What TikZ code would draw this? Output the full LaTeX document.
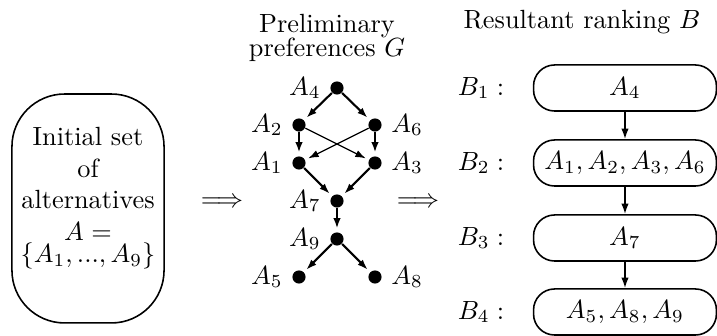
\documentclass[tikz,border=0pt]{standalone}
\usepackage{amsmath}
\usepackage{amssymb}
\usepackage{tikz}
\usetikzlibrary{positioning,arrows.meta}

\begin{document}
\begin{tikzpicture}[
  x=0.38pt,y=-0.38pt,
  vtx/.style={circle,fill=black,inner sep=0pt,minimum size=5pt},
  pref/.style={->,>={Latex[length=4pt,width=2.8pt]},thick,shorten >=1.2pt},
  crosspref/.style={pref,line width=0.5pt},
  initbox/.style={rectangle,draw,semithick,rounded corners=20pt,minimum width=57.8pt,minimum height=87pt},
  rankbox/.style={rectangle,draw,semithick,rounded corners=8pt,minimum width=69.5pt,minimum height=17.5pt,inner sep=0pt},
  rankdep/.style={->,>={Latex[length=4pt,width=2.8pt]},semithick},
]
\useasboundingbox (0,0) rectangle (717,336);

% === Initial set ===
\node[initbox] (init) at (88,208.5) {};
\node[align=center,anchor=north] (inittext) at (88,118) {Initial set\\of\\alternatives\\$A=$\\[-3.5pt]$\{A_1,...,A_9\}$};

\node (imp1) at (222,203) {$\Longrightarrow$};

% === Preliminary preferences G ===
\node[align=center,anchor=north] (gtitle) at (327,5) {Preliminary\\[-3pt]preferences $G$};

\node[vtx,label={left:$A_4$}] (a4) at (337,88) {};
\node[vtx,label={left:$A_2$}] (a2) at (299,125) {};
\node[vtx,label={right:$A_6$}] (a6) at (375,125) {};
\node[vtx,label={left:$A_1$}] (a1) at (299,163) {};
\node[vtx,label={right:$A_3$}] (a3) at (375,163) {};
\node[vtx,label={left:$A_7$}] (a7) at (337,201) {};
\node[vtx,label={left:$A_9$}] (a9) at (337,239) {};
\node[vtx,label={left:$A_5$}] (a5) at (299,277) {};
\node[vtx,label={right:$A_8$}] (a8) at (375,277) {};

\draw[pref] (a4) -- (a2);
\draw[pref] (a4) -- (a6);
\draw[pref] (a2) -- (a1);
\draw[pref] (a6) -- (a3);
\draw[crosspref] (a2) -- (a3);
\draw[crosspref] (a6) -- (a1);
\draw[pref] (a1) -- (a7);
\draw[pref] (a3) -- (a7);
\draw[pref] (a7) -- (a9);
\draw[pref] (a9) -- (a5);
\draw[pref] (a9) -- (a8);

\node (imp2) at (418,203) {$\Longrightarrow$};

% === Resultant ranking B ===
\node[anchor=base] (btitle) at (582,29) {Resultant ranking $B$};

\node[rankbox] (b1) at (625,88)  {$A_4$};
\node[rankbox] (b2) at (625,163) {$A_1,A_2,A_3,A_6$};
\node[rankbox] (b3) at (625,238) {$A_7$};
\node[rankbox] (b4) at (625,312) {$A_5,A_8,A_9$};

\node (l1) at (481,88)  {$B_1:$};
\node (l2) at (481,163) {$B_2:$};
\node (l3) at (481,238) {$B_3:$};
\node (l4) at (481,312) {$B_4:$};

\draw[rankdep] (b1) -- (b2);
\draw[rankdep] (b2) -- (b3);
\draw[rankdep] (b3) -- (b4);

\end{tikzpicture}
\end{document}
